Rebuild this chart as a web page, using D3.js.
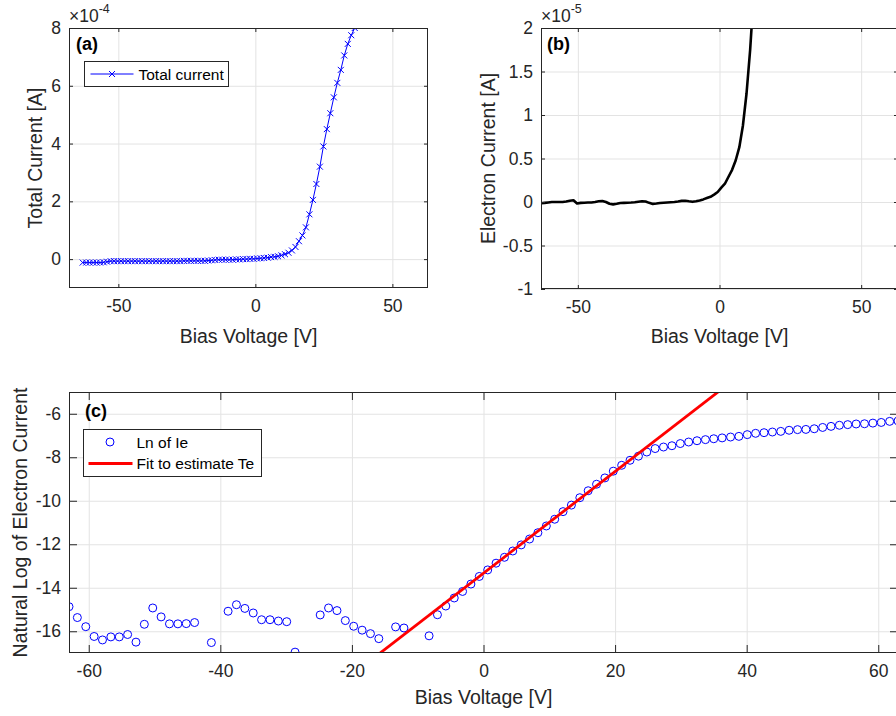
<!DOCTYPE html>
<html>
<head>
<meta charset="utf-8">
<script src="https://d3js.org/d3.v7.min.js"></script>
<style>
  body { margin: 0; background: #fff; }
  svg { display: block; font-family: "Liberation Sans", Arial, sans-serif; }
</style>
</head>
<body>
<svg id="chart" width="896" height="716"></svg>
<script>
// ── Data ──
// bias sweep (V), 100 points from -63 to 63
const biasVoltage = [
  -63.00, -61.73, -60.45, -59.18, -57.91, -56.64, -55.36, -54.09, -52.82, -51.55,
  -50.27, -49.00, -47.73, -46.45, -45.18, -43.91, -42.64, -41.36, -40.09, -38.82,
  -37.55, -36.27, -35.00, -33.73, -32.45, -31.18, -29.91, -28.64, -27.36, -26.09,
  -24.82, -23.55, -22.27, -21.00, -19.73, -18.45, -17.18, -15.91, -14.64, -13.36,
  -12.09, -10.82, -9.55, -8.27, -7.00, -5.73, -4.45, -3.18, -1.91, -0.64,
  0.64, 1.91, 3.18, 4.45, 5.73, 7.00, 8.27, 9.55, 10.82, 12.09,
  13.36, 14.64, 15.91, 17.18, 18.45, 19.73, 21.00, 22.27, 23.55, 24.82,
  26.09, 27.36, 28.64, 29.91, 31.18, 32.45, 33.73, 35.00, 36.27, 37.55,
  38.82, 40.09, 41.36, 42.64, 43.91, 45.18, 46.45, 47.73, 49.00, 50.27,
  51.55, 52.82, 54.09, 55.36, 56.64, 57.91, 59.18, 60.45, 61.73, 63.00
];

// (a) total current, x1e-4 A
const totalCurrent = [
  -0.12, -0.12, -0.12, -0.12, -0.12, -0.12, -0.11, -0.09, -0.07, -0.07,
  -0.07, -0.07, -0.07, -0.07, -0.07, -0.07, -0.07, -0.07, -0.07, -0.07,
  -0.07, -0.07, -0.07, -0.07, -0.07, -0.07, -0.07, -0.07, -0.07, -0.06,
  -0.06, -0.06, -0.06, -0.06, -0.06, -0.06, -0.05, -0.04, -0.03, -0.02,
  -0.02, -0.02, -0.02, -0.02, -0.01, -0.01, 0.00, 0.00, 0.01, 0.01,
  0.02, 0.03, 0.04, 0.05, 0.07, 0.08, 0.10, 0.13, 0.17, 0.22,
  0.30, 0.42, 0.62, 0.82, 1.10, 1.55, 2.05, 2.60, 3.20, 3.90,
  4.50, 5.05, 5.60, 6.10, 6.55, 7.05, 7.45, 7.75, 8.00, 8.30,
  8.55, 8.80, 9.10, 9.35, 9.60, 9.85, 10.10, 10.35, 10.55, 10.80,
  11.00, 11.25, 11.50, 11.70, 11.95, 12.20, 12.45, 12.70, 12.90, 13.10
];

// (b) electron current, x1e-5 A
const electronCurrent = [
  -0.015, -0.010, -0.005, 0.000, 0.000, 0.000, 0.000, 0.005, 0.015, 0.020,
  -0.018, -0.010, -0.008, -0.005, -0.005, 0.000, 0.008, 0.012, 0.000, -0.020,
  -0.027, -0.020, -0.012, -0.010, -0.008, -0.006, -0.003, 0.003, 0.008, 0.005,
  -0.010, -0.022, -0.018, -0.012, -0.008, -0.005, -0.002, 0.000, 0.006, 0.013,
  0.015, 0.008, 0.002, 0.008, 0.018, 0.030, 0.045, 0.060, 0.085, 0.115,
  0.165, 0.210, 0.290, 0.370, 0.480, 0.630, 0.880, 1.250, 1.750, 2.400,
  3.200, 4.200, 5.500, 7.200, 9.500, 12.5, 16.0, 20.0, 25.0, 30.0,
  35.0, 39.0, 43.0, 47.0, 51.0, 54.0, 57.0, 60.0, 63.0, 66.0,
  69.0, 72.0, 76.0, 79.0, 82.0, 85.0, 88.0, 91.0, 94.0, 97.0,
  100.0, 104.0, 108.0, 111.0, 114.0, 117.0, 120.0, 123.0, 126.0, 129.0
];

// (c) ln of electron current; null where no marker is shown
const lnElectronCurrent = [
  -14.87, -15.37, -15.79, -16.24, -16.40, -16.26, -16.26, -16.15, -16.50, -15.68,
  -14.93, -15.34, -15.66, -15.66, -15.65, -15.60, null, -16.52, null, -15.08,
  -14.78, -14.95, -15.16, -15.47, -15.47, -15.53, -15.56, -16.96, null, null,
  -15.25, -14.93, -15.05, -15.51, -15.77, -15.95, -16.11, -16.34, null, -15.80,
  -15.85, null, null, -16.21, -15.24, -14.84, -14.47, -14.17, -13.83, -13.48,
  -13.18, -12.87, -12.60, -12.31, -12.03, -11.76, -11.47, -11.16, -10.85, -10.50,
  -10.20, -9.86, -9.54, -9.24, -8.95, -8.64, -8.37, -8.14, -7.95, -7.76,
  -7.60, -7.53, -7.47, -7.37, -7.30, -7.24, -7.19, -7.15, -7.11, -7.07,
  -7.04, -6.96, -6.90, -6.87, -6.84, -6.81, -6.76, -6.73, -6.72, -6.69,
  -6.63, -6.58, -6.53, -6.50, -6.47, -6.46, -6.43, -6.40, -6.35, -6.33
];

// linear fit used for Te
const fitSlope = 0.2337;
const fitIntercept = -13.33;
const fitRange = [-20, 40];

// ticks
const xTicksAB = [-50, 0, 50];
const yTicksA = [0, 2, 4, 6, 8];
const yTicksB = [-1, -0.5, 0, 0.5, 1, 1.5, 2];
const xTicksC = [-60, -40, -20, 0, 20, 40, 60];
const yTicksC = [-16, -14, -12, -10, -8, -6];

// ── Styles ──
const INK = '#262626';
const GRID = '#e3e3e3';
const TICK_FONT = 17.5;
const LABEL_FONT = 19.5;
const LEGEND_FONT = 15.5;

const svg = d3.select('#chart');

// ── Axes helper ──
function makePanel(id, box, xDomain, yDomain, xTicks, yTicks, tickLen) {
  const x = d3.scaleLinear().domain(xDomain).range([box.x, box.x + box.w]);
  const y = d3.scaleLinear().domain(yDomain).range([box.y + box.h, box.y]);
  const g = svg.append('g');

  svg.append('clipPath').attr('id', id).append('rect')
    .attr('x', box.x).attr('y', box.y).attr('width', box.w).attr('height', box.h);

  g.append('rect').attr('x', box.x).attr('y', box.y).attr('width', box.w).attr('height', box.h)
    .attr('fill', '#fff');

  // grid
  g.append('g').attr('transform', `translate(0,${box.y + box.h})`)
    .call(d3.axisBottom(x).tickValues(xTicks).tickSize(-box.h).tickFormat(''))
    .call(a => a.select('.domain').remove())
    .selectAll('line').attr('stroke', GRID);
  g.append('g').attr('transform', `translate(${box.x},0)`)
    .call(d3.axisLeft(y).tickValues(yTicks).tickSize(-box.w).tickFormat(''))
    .call(a => a.select('.domain').remove())
    .selectAll('line').attr('stroke', GRID);

  const data = g.append('g').attr('clip-path', `url(#${id})`);
  const frame = g.append('g');

  // frame: ticks point inward on all four sides
  const style = a => {
    a.select('.domain').remove();
    a.selectAll('line').attr('stroke', INK);
    a.selectAll('text').attr('fill', INK).attr('font-size', TICK_FONT)
      .attr('font-family', '"Liberation Sans", Arial, sans-serif');
  };
  frame.append('g').attr('transform', `translate(0,${box.y + box.h})`)
    .call(d3.axisBottom(x).tickValues(xTicks).tickSize(-tickLen).tickPadding(12).tickFormat(d => String(d)))
    .call(style);
  frame.append('g').attr('transform', `translate(0,${box.y})`)
    .call(d3.axisTop(x).tickValues(xTicks).tickSize(-tickLen).tickFormat(''))
    .call(style);
  frame.append('g').attr('transform', `translate(${box.x},0)`)
    .call(d3.axisLeft(y).tickValues(yTicks).tickSize(-tickLen).tickPadding(8).tickFormat(d => String(d)))
    .call(style);
  frame.append('g').attr('transform', `translate(${box.x + box.w},0)`)
    .call(d3.axisRight(y).tickValues(yTicks).tickSize(-tickLen).tickFormat(''))
    .call(style);
  frame.append('rect').attr('x', box.x + 0.5).attr('y', box.y + 0.5)
    .attr('width', box.w - 1).attr('height', box.h - 1)
    .attr('fill', 'none').attr('stroke', INK).attr('stroke-width', 1);

  return { x, y, g, data, frame, box };
}

function axisTitles(p, xTitle, yTitle, xTitleY, yTitleX) {
  const b = p.box;
  p.frame.append('text').attr('x', b.x + b.w / 2).attr('y', xTitleY)
    .attr('text-anchor', 'middle').attr('dominant-baseline', 'central')
    .attr('font-size', LABEL_FONT).attr('fill', INK).text(xTitle);
  p.frame.append('text')
    .attr('transform', `translate(${yTitleX},${b.y + b.h / 2}) rotate(-90)`)
    .attr('text-anchor', 'middle').attr('dominant-baseline', 'central')
    .attr('font-size', LABEL_FONT).attr('fill', INK).text(yTitle);
}

function panelTag(p, label, dx, dy) {
  p.frame.append('text').attr('x', p.box.x + dx).attr('y', p.box.y + dy)
    .attr('dominant-baseline', 'central').attr('font-size', 18).attr('font-weight', 700)
    .attr('fill', '#000').text(label);
}

function exponent(p, exp) {
  const t = p.frame.append('text').attr('x', p.box.x).attr('y', p.box.y - 6)
    .attr('fill', INK).attr('font-size', TICK_FONT);
  t.append('tspan').text('\u00d710');
  t.append('tspan').attr('dy', -9).attr('font-size', 12.5).text(exp);
}

const xMark = 'M-3,-3L3,3M-3,3L3,-3';
const pts = arr => biasVoltage.map((v, i) => ({ v, val: arr[i] }));

// ══════════════════════════════
// (a) Total current
// ══════════════════════════════
const pa = makePanel('clip-a', { x: 69, y: 28, w: 359, h: 260 }, [-68, 63], [-1, 8], xTicksAB, yTicksA, 4);
const dataA = pts(totalCurrent);
pa.data.append('path').datum(dataA)
  .attr('fill', 'none').attr('stroke', '#0000ff').attr('stroke-width', 1)
  .attr('d', d3.line().x(d => pa.x(d.v)).y(d => pa.y(d.val)));
pa.data.selectAll('.mk').data(dataA).join('path')
  .attr('transform', d => `translate(${pa.x(d.v)},${pa.y(d.val)})`)
  .attr('d', xMark).attr('stroke', '#0000ff').attr('stroke-width', 1).attr('fill', 'none');
axisTitles(pa, 'Bias Voltage [V]', 'Total Current [A]', 336, 35);
panelTag(pa, '(a)', 7, 16);
exponent(pa, '-4');

// legend (a)
const la = pa.frame.append('g').attr('transform', `translate(${pa.box.x + 15.5},${pa.box.y + 33.5})`);
la.append('rect').attr('width', 144).attr('height', 25).attr('fill', '#fff').attr('stroke', INK);
la.append('line').attr('x1', 6).attr('x2', 49).attr('y1', 12.5).attr('y2', 12.5)
  .attr('stroke', '#0000ff').attr('stroke-width', 1);
la.append('path').attr('transform', 'translate(27.5,12.5)').attr('d', xMark)
  .attr('stroke', '#0000ff').attr('fill', 'none');
la.append('text').attr('x', 54).attr('y', 12.5).attr('dominant-baseline', 'central')
  .attr('font-size', LEGEND_FONT).attr('fill', '#000').text('Total current');

// ══════════════════════════════
// (b) Electron current
// ══════════════════════════════
const pb = makePanel('clip-b', { x: 541, y: 28, w: 357, h: 261 }, [-63, 63], [-1, 2], xTicksAB, yTicksB, 4);
pb.data.append('path').datum(pts(electronCurrent))
  .attr('fill', 'none').attr('stroke', '#000').attr('stroke-width', 2.6)
  .attr('stroke-linejoin', 'round')
  .attr('d', d3.line().x(d => pb.x(d.v)).y(d => pb.y(d.val)));
axisTitles(pb, 'Bias Voltage [V]', 'Electron Current [A]', 336, 488);
panelTag(pb, '(b)', 6, 16);
exponent(pb, '-5');

// ══════════════════════════════
// (c) ln(Ie) with linear fit
// ══════════════════════════════
const pc = makePanel('clip-c', { x: 69, y: 392, w: 829, h: 261 }, [-63, 63], [-17, -5], xTicksC, yTicksC, 8);
const dataC = pts(lnElectronCurrent).filter(d => d.val != null);
pc.data.selectAll('circle').data(dataC).join('circle')
  .attr('cx', d => pc.x(d.v)).attr('cy', d => pc.y(d.val)).attr('r', 4)
  .attr('fill', 'none').attr('stroke', '#0000ff').attr('stroke-width', 1);
const fitLine = fitRange.map(v => ({ v, val: fitSlope * v + fitIntercept }));
pc.data.append('path').datum(fitLine)
  .attr('fill', 'none').attr('stroke', '#ff0000').attr('stroke-width', 2.8)
  .attr('d', d3.line().x(d => pc.x(d.v)).y(d => pc.y(d.val)));
axisTitles(pc, 'Bias Voltage [V]', 'Natural Log of Electron Current', 697, 20);
panelTag(pc, '(c)', 16, 19);

// legend (c)
const lc = pc.frame.append('g').attr('transform', `translate(${pc.box.x + 14.5},${pc.box.y + 37.5})`);
lc.append('rect').attr('width', 178).attr('height', 47).attr('fill', '#fff').attr('stroke', INK);
lc.append('circle').attr('cx', 26.5).attr('cy', 12.5).attr('r', 4)
  .attr('fill', 'none').attr('stroke', '#0000ff');
lc.append('text').attr('x', 53).attr('y', 13).attr('dominant-baseline', 'central')
  .attr('font-size', LEGEND_FONT).attr('fill', '#000').text('Ln of Ie');
lc.append('line').attr('x1', 5).attr('x2', 49).attr('y1', 34).attr('y2', 34)
  .attr('stroke', '#ff0000').attr('stroke-width', 2.8);
lc.append('text').attr('x', 53).attr('y', 34).attr('dominant-baseline', 'central')
  .attr('font-size', LEGEND_FONT).attr('fill', '#000').text('Fit to estimate Te');
</script>
</body>
</html>
